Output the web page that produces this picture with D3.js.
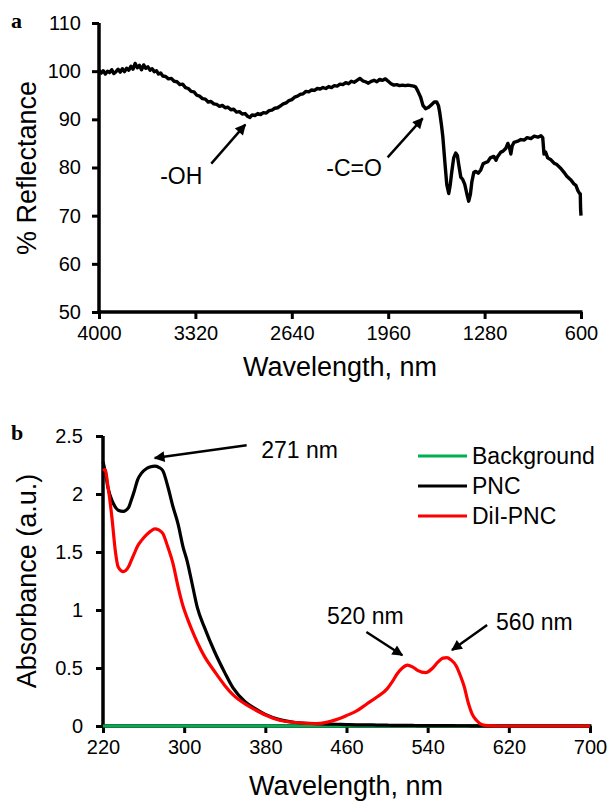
<!DOCTYPE html>
<html><head><meta charset="utf-8">
<script src="https://cdn.jsdelivr.net/npm/d3@7"></script>
<style>
html,body{margin:0;padding:0;background:#fff;}
svg{display:block;font-family:"Liberation Sans",Arial,sans-serif;}
</style></head>
<body><svg id="c" width="611" height="803"></svg>
<script>
// ---------- Panel a data (reflectance) ----------
const reflWavelength = [4000,3985,3970,3955,3940,3925,3910,3895,3880,3865,3850,3835,3820,3805,3790,3775,3760,3745,3730,3715,3700,3685,3670,3655,3640,3625,3610,3595,3580,3565,3550,3530,3510,3490,3470,3450,3430,3410,3390,3370,3350,3330,3310,3290,3270,3250,3230,3210,3190,3170,3150,3130,3110,3090,3070,3050,3030,3010,2990,2970,2950,2935,2920,2900,2880,2860,2840,2820,2800,2780,2760,2740,2720,2700,2680,2660,2640,2620,2600,2580,2560,2540,2520,2500,2480,2460,2440,2420,2400,2380,2360,2340,2320,2300,2280,2260,2240,2220,2200,2180,2160,2140,2120,2100,2080,2060,2040,2020,2000,1980,1960,1940,1920,1900,1880,1860,1840,1820,1800,1780,1766,1750,1731,1715,1696,1675,1653,1635,1618,1605,1597,1585,1575,1560,1547,1533,1522,1512,1498,1484,1472,1462,1448,1434,1420,1405,1392,1380,1370,1356,1342,1325,1307,1290,1275,1257,1240,1215,1200,1190,1165,1150,1130,1116,1105,1095,1085,1073,1050,1024,1000,980,953,930,904,883,870,861,850,835,812,790,770,742,720,700,671,650,636,622,610,605,603,600];
const reflValue = [100.2,99.6,100.1,99.4,100.0,99.7,100.3,99.5,99.9,100.4,99.8,100.5,99.9,100.6,100.2,101.0,100.4,101.6,100.7,101.2,100.3,101.3,100.6,100.9,100.2,100.5,99.9,100.1,99.4,99.6,99.0,98.9,98.4,98.5,97.9,97.8,97.2,97.3,96.6,96.4,95.8,95.7,95.0,94.8,94.3,94.2,93.6,93.7,93.2,93.1,92.7,92.9,92.4,92.5,92.0,92.1,91.5,91.6,91.1,91.2,90.6,90.4,90.9,90.8,91.2,91.0,91.4,91.3,91.8,91.9,92.3,92.4,92.8,93.2,93.4,93.9,94.1,94.6,94.8,95.2,95.3,95.8,95.7,96.1,96.0,96.4,96.3,96.6,96.4,96.8,96.6,97.0,96.9,97.3,97.2,97.6,97.4,97.9,97.7,98.1,98.5,98.0,97.8,97.5,97.9,98.1,97.8,98.3,98.1,98.4,97.9,97.4,97.1,97.2,97.0,97.1,97.0,97.1,97.0,96.9,96.7,95.8,94.6,92.9,92.2,92.5,93.1,93.6,93.6,92.8,91.5,89,86.5,81,76.5,74.6,76.5,79,82,83,82.5,80.5,78,77.5,76.5,74.5,73,74.5,77,79,79.2,78.8,79.5,80.8,81,81.2,82,82.3,81.5,82.2,83.2,83.4,84.0,85.0,84.2,82.8,84.5,85.2,85.4,85.8,85.7,86.2,86.0,86.5,86.3,86.6,86.2,82.8,83.2,82.0,81.6,80.9,80.6,79.8,79.0,78.2,77.4,76.6,76.3,75.2,74.6,74.5,71.5,70.0];
const reflXTicks = [4000,3320,2640,1960,1280,600];
const reflYTicks = [50,60,70,80,90,100,110];

// ---------- Panel b data (absorbance) ----------
const absWavelength = [220,222,225,229,232,235,240,245,248,251,254,258,263,267,271,275,279,284,289,294,299,303,308,313,320,330,340,348,360,370,380,394,410,430,450,460,470,480,490,500,505,510,515,520,525,530,538,545,550,555,559,563,568,572,576,580,584,588,594,600,610,700];
const pncValue = [2.28,2.2,2.05,1.94,1.89,1.86,1.85,1.88,1.95,2.03,2.12,2.18,2.22,2.235,2.24,2.23,2.2,2.06,1.89,1.74,1.54,1.42,1.22,1.02,0.85,0.64,0.46,0.33,0.21,0.15,0.1,0.055,0.03,0.02,0.015,0.012,0.01,0.01,0.008,0.007,0.006,0.006,0.005,0.005,0.005,0.004,0.004,0.004,0.003,0.003,0.003,0.003,0.002,0.002,0.002,0.002,0.001,0.001,0.001,0,0,0];
const diiValue = [2.2,2.21,2.06,1.78,1.52,1.37,1.33,1.37,1.43,1.49,1.55,1.6,1.65,1.68,1.70,1.69,1.66,1.54,1.40,1.2,1.03,0.93,0.82,0.72,0.6,0.47,0.35,0.27,0.19,0.14,0.095,0.05,0.03,0.02,0.055,0.09,0.13,0.19,0.25,0.32,0.38,0.45,0.5,0.525,0.51,0.48,0.46,0.5,0.55,0.585,0.59,0.57,0.52,0.44,0.34,0.2,0.1,0.05,0.01,0.003,0,0];
const backgroundValue = absWavelength.map(() => 0);
const absXTicks = [220,300,380,460,540,620,700];
const absYTicks = [0,0.5,1,1.5,2,2.5];
const seriesNames = ["Background","PNC","DiI-PNC"];
const seriesColors = ["#00b050","#000000","#ff0000"];

const svg = d3.select("#c");
const FONT_TICK = 20, FONT_TITLE = 27, FONT_ANN = 23;

// arrowhead marker
svg.append("defs").append("marker")
  .attr("id","ah").attr("viewBox","0 0 10 10").attr("refX",9).attr("refY",5)
  .attr("markerWidth",5).attr("markerHeight",4.5).attr("orient","auto")
  .attr("markerUnits","strokeWidth")
  .append("path").attr("d","M0,0 L10,5 L0,10 z").attr("fill","#000");

function styleAxis(g){
  g.select(".domain").remove();
  g.selectAll(".tick line").attr("stroke","#000").attr("stroke-width",3);
  g.selectAll(".tick text").attr("font-size",FONT_TICK).attr("fill","#000")
   .attr("font-family","Liberation Sans, Arial, sans-serif");
}
function axisLines(xs, ys){
  const [x0,x1] = xs.range(), [y0,y1] = ys.range();
  svg.append("line").attr("x1",x0).attr("x2",x0).attr("y1",y0+1.5).attr("y2",y1)
    .attr("stroke","#000").attr("stroke-width",3.5);
  svg.append("line").attr("x1",x0-1.5).attr("x2",x1+1.5).attr("y1",y0).attr("y2",y0)
    .attr("stroke","#000").attr("stroke-width",3.5);
}

// ================= Panel a =================
const xa = d3.scaleLinear().domain([4000,600]).range([99,581]);
const ya = d3.scaleLinear().domain([50,110]).range([312,23]);

svg.append("g").attr("transform","translate(0,312)")
  .call(d3.axisBottom(xa).tickValues(reflXTicks).tickFormat(d3.format("d")).tickSize(7).tickPadding(7).tickSizeOuter(0))
  .call(styleAxis);
svg.append("g").attr("transform","translate(99,0)")
  .call(d3.axisLeft(ya).tickValues(reflYTicks).tickFormat(d3.format("d")).tickSize(7).tickPadding(11).tickSizeOuter(0))
  .call(styleAxis);
axisLines(xa, ya);

const reflData = reflWavelength.map((w,i)=>({w, v: reflValue[i]}));
svg.append("path").datum(reflData)
  .attr("fill","none").attr("stroke","#000").attr("stroke-width",3.4).attr("stroke-linejoin","round")
  .attr("d", d3.line().x(d=>xa(d.w)).y(d=>ya(d.v)));

svg.append("text").attr("x",340).attr("y",376).attr("text-anchor","middle")
  .attr("font-size",FONT_TITLE).text("Wavelength, nm");
svg.append("text").attr("transform","translate(36,168) rotate(-90)").attr("text-anchor","middle")
  .attr("font-size",FONT_TITLE).text("% Reflectance");
svg.append("text").attr("x",11).attr("y",28).attr("font-family","Liberation Serif, serif")
  .attr("font-weight","bold").attr("font-size",22).text("a");

// annotations panel a (in data units)
const annA = [
  {text:"-OH", tx:3420, ty:78.2, x1:3208, y1:80.8, x2:2968, y2:88.9},
  {text:"-C=O", tx:2201, ty:79.9, x1:1964, y1:82.1, x2:1717, y2:90.2}
];
annA.forEach(a=>{
  svg.append("line").attr("x1",xa(a.x1)).attr("y1",ya(a.y1)).attr("x2",xa(a.x2)).attr("y2",ya(a.y2))
    .attr("stroke","#000").attr("stroke-width",2.4).attr("marker-end","url(#ah)");
  svg.append("text").attr("x",xa(a.tx)).attr("y",ya(a.ty)).attr("dy","0.35em").attr("text-anchor","middle")
    .attr("font-size",FONT_ANN).text(a.text);
});

// ================= Panel b =================
const xb = d3.scaleLinear().domain([220,700]).range([103,590]);
const yb = d3.scaleLinear().domain([0,2.5]).range([726,436]);

svg.append("g").attr("transform","translate(0,726)")
  .call(d3.axisBottom(xb).tickValues(absXTicks).tickFormat(d3.format("d")).tickSize(7).tickPadding(7).tickSizeOuter(0))
  .call(styleAxis);
svg.append("g").attr("transform","translate(103,0)")
  .call(d3.axisLeft(yb).tickValues(absYTicks).tickFormat(d3.format("~g")).tickSize(7).tickPadding(13).tickSizeOuter(0))
  .call(styleAxis);
axisLines(xb, yb);

const lineB = d3.line().x(d=>xb(d.w)).y(d=>yb(d.v)).curve(d3.curveMonotoneX);
[backgroundValue, pncValue, diiValue].forEach((vals,k)=>{
  const data = absWavelength.map((w,i)=>({w, v: vals[i]}));
  svg.append("path").datum(data).attr("fill","none").attr("stroke",seriesColors[k])
    .attr("stroke-width",3.2).attr("stroke-linejoin","round").attr("d",lineB);
});

svg.append("text").attr("x",346).attr("y",795).attr("text-anchor","middle")
  .attr("font-size",FONT_TITLE).text("Wavelength, nm");
svg.append("text").attr("transform","translate(36,581) rotate(-90)").attr("text-anchor","middle")
  .attr("font-size",FONT_TITLE).text("Absorbance (a.u.)");
svg.append("text").attr("x",11).attr("y",440).attr("font-family","Liberation Serif, serif")
  .attr("font-weight","bold").attr("font-size",22).text("b");

// legend
const leg = svg.append("g");
seriesNames.forEach((n,k)=>{
  const y = 456 + k*30;
  leg.append("line").attr("x1",418).attr("x2",467).attr("y1",y).attr("y2",y)
    .attr("stroke",seriesColors[k]).attr("stroke-width",3.2);
  leg.append("text").attr("x",472).attr("y",y).attr("dy","0.35em").attr("font-size",FONT_ANN).text(n);
});

// annotations panel b
const annB = [
  {text:"271 nm", tx:376, ty:2.38, anchor:"start", x1:361.6, y1:2.42, x2:271, y2:2.31},
  {text:"520 nm", tx:478.6, ty:0.95, anchor:"middle", x1:479.6, y1:0.81, x2:515, y2:0.61},
  {text:"560 nm", tx:607.4, ty:0.90, anchor:"start", x1:598.6, y1:0.87, x2:564, y2:0.655}
];
annB.forEach(a=>{
  svg.append("line").attr("x1",xb(a.x1)).attr("y1",yb(a.y1)).attr("x2",xb(a.x2)).attr("y2",yb(a.y2))
    .attr("stroke","#000").attr("stroke-width",2.4).attr("marker-end","url(#ah)");
  svg.append("text").attr("x",xb(a.tx)).attr("y",yb(a.ty)).attr("dy","0.35em").attr("text-anchor",a.anchor)
    .attr("font-size",FONT_ANN).text(a.text);
});
</script></body></html>
